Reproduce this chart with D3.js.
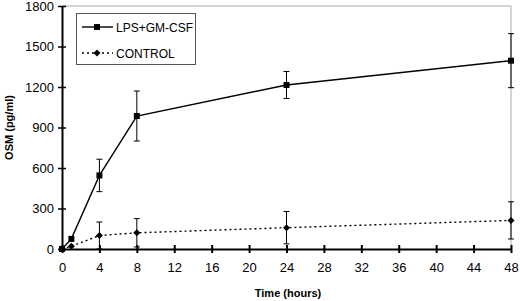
<!DOCTYPE html>
<html>
<head>
<meta charset="utf-8">
<script src="https://cdn.jsdelivr.net/npm/d3@7"></script>
<style>
  body { margin: 0; background: #fff; }
  text { font-family: "Liberation Sans", Arial, sans-serif; }
</style>
</head>
<body>
<div id="chart"></div>
<script>
// data
const hours = [0, 1, 4, 8, 24, 48];
const lpsValues = [0, 75, 545, 985, 1215, 1395];
const lpsErrors = [0, 0, 120, 185, 100, 200];
const controlValues = [0, 20, 100, 120, 158, 212];
const controlErrors = [0, 0, 100, 105, 120, 138];
const xTicks = [0, 4, 8, 12, 16, 20, 24, 28, 32, 36, 40, 44, 48];
const yTicks = [0, 300, 600, 900, 1200, 1500, 1800];

const width = 520, height = 301;
const margin = { top: 6, right: 9, bottom: 52, left: 62 };

const svg = d3.select("#chart").append("svg")
    .attr("width", width)
    .attr("height", height);

const x = d3.scaleLinear().domain([0, 48]).range([margin.left, width - margin.right]);
const y = d3.scaleLinear().domain([0, 1800]).range([height - margin.bottom, margin.top]);

// grey frame top and right
svg.append("line")
    .attr("x1", x(0)).attr("x2", x(48))
    .attr("y1", y(1800)).attr("y2", y(1800))
    .attr("stroke", "#aaa").attr("stroke-width", 1);
svg.append("line")
    .attr("x1", x(48)).attr("x2", x(48))
    .attr("y1", y(1800)).attr("y2", y(0))
    .attr("stroke", "#aaa").attr("stroke-width", 1);

// axes
const xAxis = svg.append("g")
    .attr("transform", `translate(0,${y(0)})`)
    .call(d3.axisBottom(x).tickValues(xTicks).tickSize(0).tickPadding(14));
xAxis.select(".domain").attr("stroke-width", 2);
xAxis.selectAll(".tick").append("line")
    .attr("y1", -4).attr("y2", 4)
    .attr("stroke", "#000").attr("stroke-width", 2);
xAxis.selectAll("text").attr("font-size", 13).attr("fill", "#000");

const yAxis = svg.append("g")
    .attr("transform", `translate(${x(0)},0)`)
    .call(d3.axisLeft(y).tickValues(yTicks).tickFormat(d3.format("d")).tickSize(0).tickPadding(8));
yAxis.select(".domain").attr("stroke-width", 2);
yAxis.selectAll(".tick").append("line")
    .attr("x1", -4).attr("x2", 4)
    .attr("stroke", "#000").attr("stroke-width", 1.5);
yAxis.selectAll("text").attr("font-size", 13).attr("fill", "#000");
svg.selectAll(".domain").attr("stroke", "#000");

// axis titles
svg.append("text")
    .attr("x", 288).attr("y", 297)
    .attr("text-anchor", "middle")
    .attr("font-size", 11).attr("font-weight", "bold")
    .text("Time (hours)");
svg.append("text")
    .attr("transform", `translate(13,${(y(0) + y(1800)) / 2}) rotate(-90)`)
    .attr("text-anchor", "middle")
    .attr("font-size", 11).attr("font-weight", "bold")
    .text("OSM (pg/ml)");

function drawSeries(values, errors, dash, marker) {
    const pts = hours.map((h, i) => ({ h, v: values[i], e: errors[i] }));
    const line = d3.line().x(d => x(d.h)).y(d => y(d.v));
    svg.append("path")
        .datum(pts)
        .attr("d", line)
        .attr("fill", "none")
        .attr("stroke", "#000")
        .attr("stroke-width", 1.4)
        .attr("stroke-dasharray", dash);
    const eb = svg.append("g").selectAll("g")
        .data(pts.filter(d => d.e > 0)).enter().append("g");
    eb.append("line")
        .attr("x1", d => x(d.h)).attr("x2", d => x(d.h))
        .attr("y1", d => y(d.v - d.e)).attr("y2", d => y(d.v + d.e))
        .attr("stroke", "#000").attr("stroke-width", 1);
    [-1, 1].forEach(s => {
        eb.append("line")
            .attr("x1", d => x(d.h) - 3).attr("x2", d => x(d.h) + 3)
            .attr("y1", d => y(d.v + s * d.e)).attr("y2", d => y(d.v + s * d.e))
            .attr("stroke", "#000").attr("stroke-width", 1);
    });
    svg.append("g").selectAll("path")
        .data(pts).enter().append("path")
        .attr("transform", d => `translate(${x(d.h)},${y(d.v)})`)
        .attr("d", marker)
        .attr("fill", "#000");
}

const squareMark = "M-3,-3H3V3H-3Z";
const diamondMark = "M0,-3.5L3.5,0L0,3.5L-3.5,0Z";
drawSeries(controlValues, controlErrors, "2,3", diamondMark);
drawSeries(lpsValues, lpsErrors, null, squareMark);

// legend
const legend = svg.append("g");
legend.append("rect")
    .attr("x", 76.5).attr("y", 13.5).attr("width", 119).attr("height", 51)
    .attr("fill", "#fff").attr("stroke", "#555").attr("stroke-width", 1);
const items = [
    { label: "LPS+GM-CSF", dash: null, marker: squareMark, y: 27 },
    { label: "CONTROL", dash: "2,3", marker: diamondMark, y: 53 }
];
items.forEach(it => {
    legend.append("line")
        .attr("x1", 82).attr("x2", 113).attr("y1", it.y).attr("y2", it.y)
        .attr("stroke", "#000").attr("stroke-width", 1.4)
        .attr("stroke-dasharray", it.dash);
    legend.append("path")
        .attr("transform", `translate(97,${it.y})`)
        .attr("d", it.marker).attr("fill", "#000");
    legend.append("text")
        .attr("x", 116).attr("y", it.y + 4.5)
        .attr("font-size", 12)
        .text(it.label);
});
</script>
</body>
</html>
